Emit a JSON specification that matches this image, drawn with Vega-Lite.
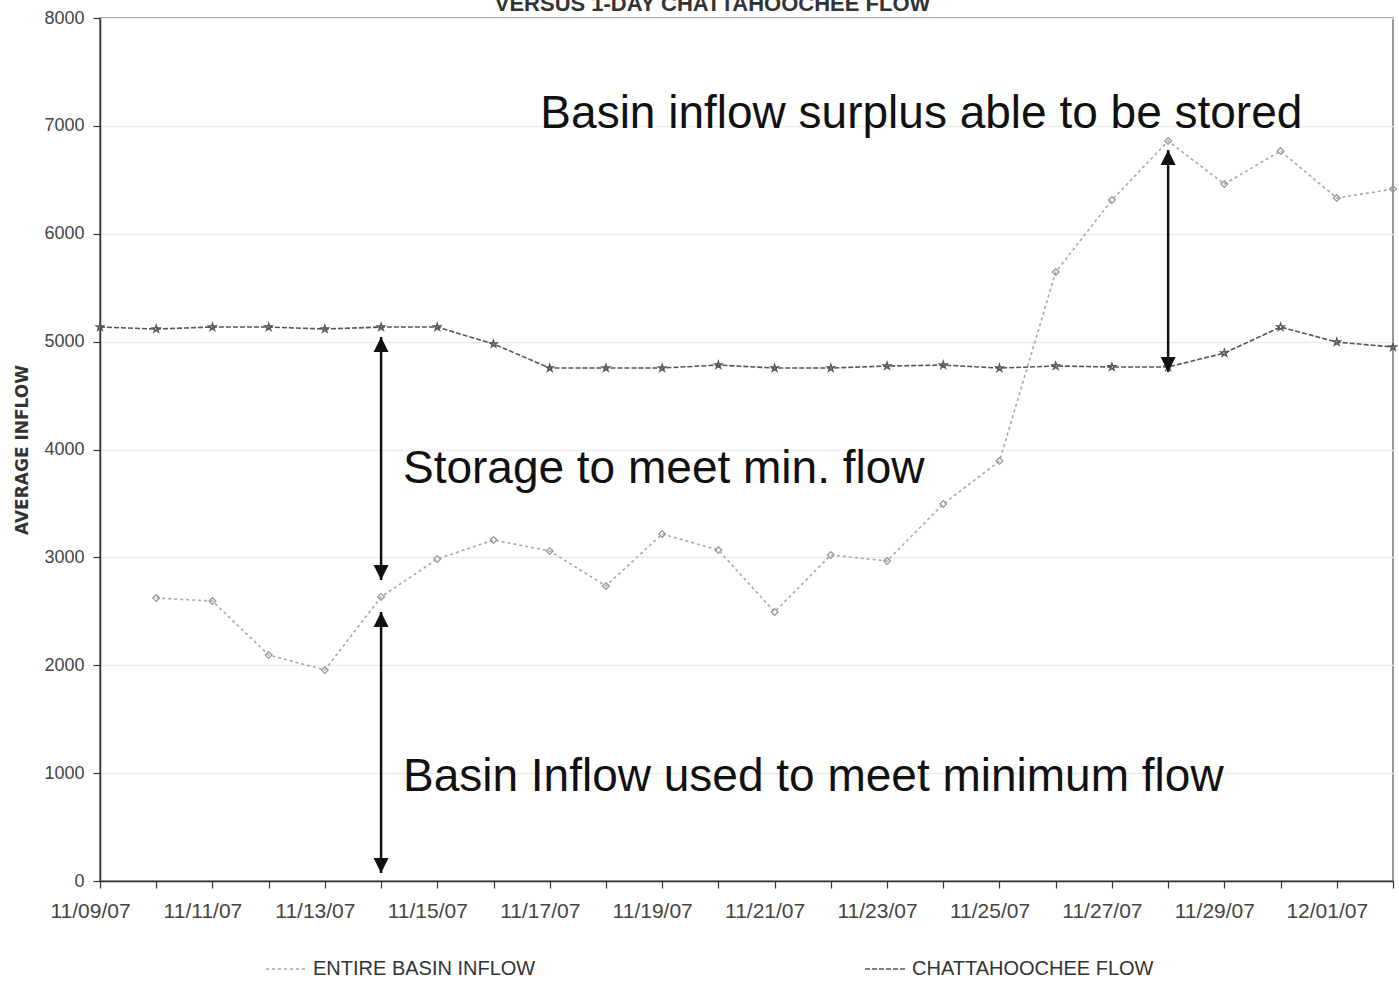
{
  "$schema": "https://vega.github.io/schema/vega-lite/v6.json",
  "width": 1293,
  "height": 863,
  "autosize": {"type": "none"},
  "padding": {"left": 100, "top": 18, "right": 6, "bottom": 108},
  "background": "white",
  "title": {
    "text": "VERSUS 1-DAY CHATTAHOOCHEE FLOW",
    "anchor": "middle",
    "dx": -34,
    "dy": 9,
    "offset": 2,
    "font": "Liberation Sans",
    "fontSize": 22,
    "fontWeight": "bold",
    "color": "#333"
  },
  "config": {
    "view": {"stroke": "#777", "strokeWidth": 1.5},
    "font": "Liberation Sans",
    "axis": {
      "labelFont": "Liberation Sans",
      "labelFontSize": 18,
      "labelColor": "#444",
      "domainColor": "#333",
      "domainWidth": 1.5,
      "tickColor": "#333",
      "tickWidth": 1.2,
      "tickSize": 7,
      "gridColor": "#ececec",
      "gridWidth": 1.5
    }
  },
  "datasets": {
    "flows": [
      {"date": "2007-11-09", "series": "CHATTAHOOCHEE FLOW", "flow": 5135},
      {"date": "2007-11-10", "series": "CHATTAHOOCHEE FLOW", "flow": 5117},
      {"date": "2007-11-11", "series": "CHATTAHOOCHEE FLOW", "flow": 5135},
      {"date": "2007-11-12", "series": "CHATTAHOOCHEE FLOW", "flow": 5135},
      {"date": "2007-11-13", "series": "CHATTAHOOCHEE FLOW", "flow": 5117},
      {"date": "2007-11-14", "series": "CHATTAHOOCHEE FLOW", "flow": 5135},
      {"date": "2007-11-15", "series": "CHATTAHOOCHEE FLOW", "flow": 5135},
      {"date": "2007-11-16", "series": "CHATTAHOOCHEE FLOW", "flow": 4978},
      {"date": "2007-11-17", "series": "CHATTAHOOCHEE FLOW", "flow": 4755},
      {"date": "2007-11-18", "series": "CHATTAHOOCHEE FLOW", "flow": 4755},
      {"date": "2007-11-19", "series": "CHATTAHOOCHEE FLOW", "flow": 4755},
      {"date": "2007-11-20", "series": "CHATTAHOOCHEE FLOW", "flow": 4783},
      {"date": "2007-11-21", "series": "CHATTAHOOCHEE FLOW", "flow": 4755},
      {"date": "2007-11-22", "series": "CHATTAHOOCHEE FLOW", "flow": 4755},
      {"date": "2007-11-23", "series": "CHATTAHOOCHEE FLOW", "flow": 4774},
      {"date": "2007-11-24", "series": "CHATTAHOOCHEE FLOW", "flow": 4783},
      {"date": "2007-11-25", "series": "CHATTAHOOCHEE FLOW", "flow": 4755},
      {"date": "2007-11-26", "series": "CHATTAHOOCHEE FLOW", "flow": 4774},
      {"date": "2007-11-27", "series": "CHATTAHOOCHEE FLOW", "flow": 4765},
      {"date": "2007-11-28", "series": "CHATTAHOOCHEE FLOW", "flow": 4765},
      {"date": "2007-11-29", "series": "CHATTAHOOCHEE FLOW", "flow": 4894},
      {"date": "2007-11-30", "series": "CHATTAHOOCHEE FLOW", "flow": 5135},
      {"date": "2007-12-01", "series": "CHATTAHOOCHEE FLOW", "flow": 4996},
      {"date": "2007-12-02", "series": "CHATTAHOOCHEE FLOW", "flow": 4950},
      {"date": "2007-11-10", "series": "ENTIRE BASIN INFLOW", "flow": 2623},
      {"date": "2007-11-11", "series": "ENTIRE BASIN INFLOW", "flow": 2595},
      {"date": "2007-11-12", "series": "ENTIRE BASIN INFLOW", "flow": 2095},
      {"date": "2007-11-13", "series": "ENTIRE BASIN INFLOW", "flow": 1956},
      {"date": "2007-11-14", "series": "ENTIRE BASIN INFLOW", "flow": 2633},
      {"date": "2007-11-15", "series": "ENTIRE BASIN INFLOW", "flow": 2985},
      {"date": "2007-11-16", "series": "ENTIRE BASIN INFLOW", "flow": 3161},
      {"date": "2007-11-17", "series": "ENTIRE BASIN INFLOW", "flow": 3059},
      {"date": "2007-11-18", "series": "ENTIRE BASIN INFLOW", "flow": 2735},
      {"date": "2007-11-19", "series": "ENTIRE BASIN INFLOW", "flow": 3217},
      {"date": "2007-11-20", "series": "ENTIRE BASIN INFLOW", "flow": 3068},
      {"date": "2007-11-21", "series": "ENTIRE BASIN INFLOW", "flow": 2494},
      {"date": "2007-11-22", "series": "ENTIRE BASIN INFLOW", "flow": 3022},
      {"date": "2007-11-23", "series": "ENTIRE BASIN INFLOW", "flow": 2966},
      {"date": "2007-11-24", "series": "ENTIRE BASIN INFLOW", "flow": 3495},
      {"date": "2007-11-25", "series": "ENTIRE BASIN INFLOW", "flow": 3893},
      {"date": "2007-11-26", "series": "ENTIRE BASIN INFLOW", "flow": 5645},
      {"date": "2007-11-27", "series": "ENTIRE BASIN INFLOW", "flow": 6313},
      {"date": "2007-11-28", "series": "ENTIRE BASIN INFLOW", "flow": 6859},
      {"date": "2007-11-29", "series": "ENTIRE BASIN INFLOW", "flow": 6461},
      {"date": "2007-11-30", "series": "ENTIRE BASIN INFLOW", "flow": 6767},
      {"date": "2007-12-01", "series": "ENTIRE BASIN INFLOW", "flow": 6331},
      {"date": "2007-12-02", "series": "ENTIRE BASIN INFLOW", "flow": 6414}
    ],
    "arrows": [
      {"date": "2007-11-14", "top": 5043, "bottom": 2790},
      {"date": "2007-11-14", "top": 2494, "bottom": 74},
      {"date": "2007-11-28", "top": 6776, "bottom": 4718}
    ],
    "notes": [
      {"date": "2007-11-16T20:00:00Z", "value": 6980, "label": "Basin inflow surplus able to be stored"},
      {"date": "2007-11-14T09:20:00Z", "value": 3689, "label": "Storage to meet min. flow"},
      {"date": "2007-11-14T09:20:00Z", "value": 834, "label": "Basin Inflow used to meet minimum flow"}
    ]
  },
  "encoding": {
    "x": {
      "field": "date",
      "type": "temporal",
      "scale": {
        "type": "utc",
        "domain": [
          {"year": 2007, "month": 11, "date": 9, "utc": true},
          {"year": 2007, "month": 12, "date": 2, "utc": true}
        ],
        "nice": false
      },
      "axis": {
        "title": null,
        "grid": false,
        "tickCount": {"interval": "day", "step": 1},
        "labelExpr": "utcdate(datum.value) % 2 == 1 ? utcFormat(datum.value, '%m/%d/%y') : ''",
        "labelOverlap": false,
        "labelFontSize": 21,
        "labelPadding": 12,
        "labelOffset": -10,
        "labelFlush": false
      }
    }
  },
  "layer": [
    {
      "data": {"name": "flows"},
      "mark": {"type": "line", "strokeWidth": 1.6},
      "encoding": {
        "y": {
          "field": "flow",
          "type": "quantitative",
          "scale": {"domain": [0, 8000], "nice": false},
          "axis": {
            "title": "AVERAGE INFLOW",
            "titleFont": "DejaVu Sans",
            "titleFontSize": 17,
            "titleFontWeight": "bold",
            "titleColor": "#333",
            "titlePadding": 12,
            "format": "d",
            "values": [0, 1000, 2000, 3000, 4000, 5000, 6000, 7000, 8000],
            "labelPadding": 9,
            "grid": true
          }
        },
        "color": {
          "field": "series",
          "type": "nominal",
          "scale": {
            "domain": ["ENTIRE BASIN INFLOW", "CHATTAHOOCHEE FLOW"],
            "range": ["#a8a8a8", "#555555"]
          },
          "legend": {
            "title": null,
            "orient": "none",
            "legendX": 165,
            "legendY": 930,
            "direction": "horizontal",
            "symbolType": "stroke",
            "symbolSize": 1600,
            "symbolStrokeWidth": 1.6,
            "labelFont": "Liberation Sans",
            "labelFontSize": 20,
            "labelColor": "#333",
            "labelOffset": 6,
            "labelLimit": 400,
            "columnPadding": 325,
            "padding": 0
          }
        },
        "strokeDash": {
          "field": "series",
          "type": "nominal",
          "scale": {
            "domain": ["ENTIRE BASIN INFLOW", "CHATTAHOOCHEE FLOW"],
            "range": [[3, 3], [5, 2]]
          },
          "legend": null
        }
      }
    },
    {
      "data": {"name": "flows"},
      "transform": [{"filter": "datum.series == 'ENTIRE BASIN INFLOW'"}],
      "mark": {"type": "point", "filled": false, "shape": "diamond", "color": "#999", "strokeWidth": 1.3, "size": 45, "opacity": 1},
      "encoding": {
        "y": {"field": "flow", "type": "quantitative"}
      }
    },
    {
      "data": {"name": "flows"},
      "transform": [{"filter": "datum.series == 'CHATTAHOOCHEE FLOW'"}],
      "mark": {"type": "point", "filled": false, "shape": "M0,-1L0.22,-0.31L0.95,-0.31L0.36,0.12L0.59,0.81L0,0.38L-0.59,0.81L-0.36,0.12L-0.95,-0.31L-0.22,-0.31Z", "color": "#555", "strokeWidth": 1.3, "size": 60, "opacity": 1},
      "encoding": {
        "y": {"field": "flow", "type": "quantitative"}
      }
    },
    {
      "data": {"name": "arrows"},
      "mark": {"type": "rule", "color": "#111", "strokeWidth": 2.5},
      "encoding": {
        "y": {"field": "top", "type": "quantitative"},
        "y2": {"field": "bottom"}
      }
    },
    {
      "data": {"name": "arrows"},
      "mark": {"type": "point", "filled": true, "color": "#111", "opacity": 1, "size": 900, "shape": "M0,0L0.5,1L-0.5,1Z"},
      "encoding": {
        "y": {"field": "top", "type": "quantitative"}
      }
    },
    {
      "data": {"name": "arrows"},
      "mark": {"type": "point", "filled": true, "color": "#111", "opacity": 1, "size": 900, "shape": "M0,0L0.5,-1L-0.5,-1Z"},
      "encoding": {
        "y": {"field": "bottom", "type": "quantitative"}
      }
    },
    {
      "data": {"name": "notes"},
      "mark": {"type": "text", "align": "left", "baseline": "alphabetic", "font": "Liberation Sans", "fontSize": 46, "color": "#111"},
      "encoding": {
        "y": {"field": "value", "type": "quantitative"},
        "text": {"field": "label"}
      }
    }
  ]
}
